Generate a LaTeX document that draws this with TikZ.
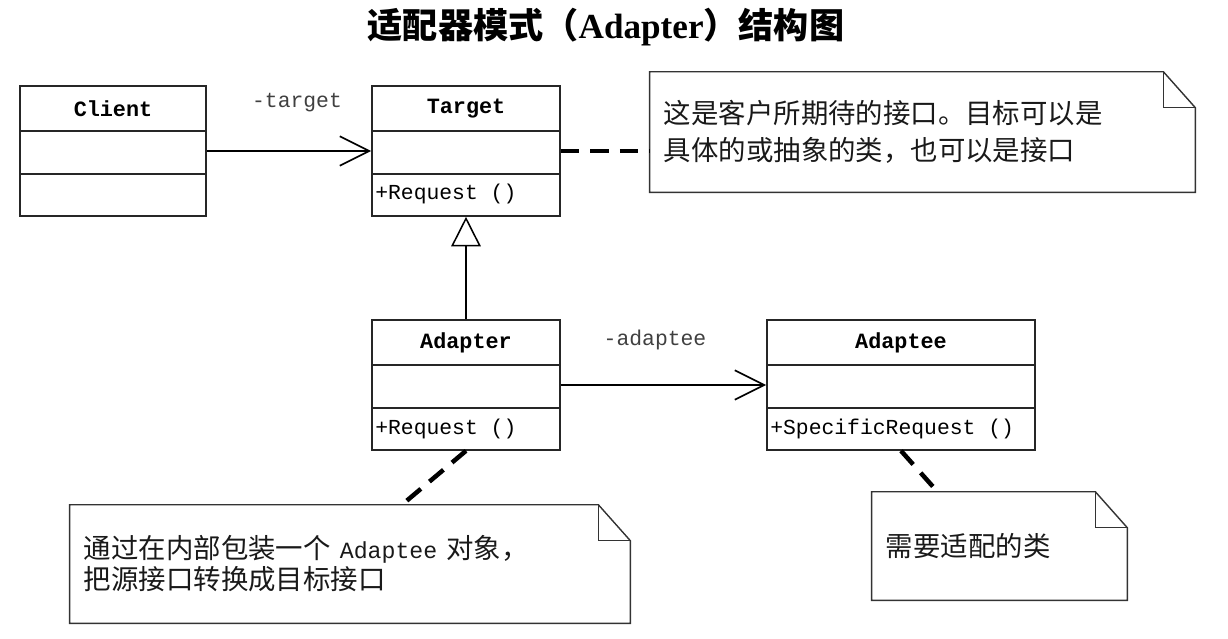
\documentclass[tikz,border=0pt]{standalone}
\usepackage{fontspec}
\newfontfamily\cjk{Noto Sans CJK SC}
\newfontfamily\monof{Liberation Mono}
\newfontfamily\titleserif{Liberation Serif}
\usetikzlibrary{arrows.meta}

\begin{document}
\begin{tikzpicture}[
  x=0.025cm, y=-0.025cm,
  cls/.style={draw=black!85, line width=1.1pt, inner sep=0pt, minimum height=3.25cm},
  divider/.style={draw=black!85, line width=1.1pt},
  clsname/.style={inner sep=0pt, font=\monof\bfseries\fontsize{15.5}{18}\selectfont},
  op/.style={anchor=west, inner sep=0pt, font=\monof\fontsize{15.2}{18}\selectfont},
  role/.style={inner sep=0pt, text=black!75, font=\monof\fontsize{15.2}{18}\selectfont},
  assoc/.style={line width=1.2pt, -{Straight Barb[length=21pt, width=21pt]}},
  gen/.style={line width=1.1pt, -{Triangle[open, length=21pt, width=21pt]}},
  note/.style={inner xsep=0.35cm, inner ysep=0pt, align=left, text=black!90,
    font=\cjk\fontsize{19.5}{26}\selectfont},
  notelink/.style={line width=3.2pt, dash pattern=on 13pt off 8pt},
  notebox/.style={draw=black!80, line width=1pt}
]
  \useasboundingbox (0,0) rectangle (1228,638);

  % titulo
  \node[font=\fontsize{25}{28}\selectfont] (title) at (606,27)
    {{\cjk\bfseries 适配器模式（}{\titleserif\bfseries Adapter}{\cjk\bfseries ）结构图}};

  % --- Client ---
  \node[cls, minimum width=4.65cm] (client) at (113,151) {};
  \node[clsname] (clientName) at (113,108.5) {Client};
  \draw[divider] (20,131) -- (206,131) (20,174) -- (206,174);

  % --- Target ---
  \node[cls, minimum width=4.7cm] (target) at (466,151) {};
  \node[clsname] (targetName) at (466,108.5) {Target};
  \node[op] (targetOp) at (375,194) {+Request ()};
  \draw[divider] (372,131) -- (560,131) (372,174) -- (560,174);

  % --- Adapter ---
  \node[cls, minimum width=4.7cm] (adapter) at (466,385) {};
  \node[clsname] (adapterName) at (466,342.5) {Adapter};
  \node[op] (adapterOp) at (375,429) {+Request ()};
  \draw[divider] (372,365) -- (560,365) (372,408) -- (560,408);

  % --- Adaptee ---
  \node[cls, minimum width=6.7cm] (adaptee) at (901,385) {};
  \node[clsname] (adapteeName) at (901,342.5) {Adaptee};
  \node[op] (adapteeOp) at (770,429) {+SpecificRequest ()};
  \draw[divider] (767,365) -- (1035,365) (767,408) -- (1035,408);

  % relaciones
  \draw[assoc] (client) -- (target);
  \node[role] (targetRole) at (297,103) {-target};
  \draw[assoc] (adapter) -- (adaptee);
  \node[role] (adapteeRole) at (655,340) {-adaptee};
  \draw[gen] (adapter) -- (target);

  % --- notas ---
  \node[note, text width=12.925cm, minimum height=3cm] (note1) at (922.5,132)
    {这是客户所期待的接口。目标可以是\\具体的或抽象的类，也可以是接口};
  \node[note, text width=13.3cm, minimum height=2.95cm,
    font=\cjk\fontsize{19.5}{22}\selectfont] (note2) at (350,564)
    {通过在内部包装一个 {\monof\fontsize{16.5}{22}\selectfont Adaptee} 对象，\\把源接口转换成目标接口};
  \node[note, text width=5.675cm, minimum height=2.7cm] (note3) at (999.5,546)
    {需要适配的类};

  \foreach \n in {note1,note2,note3} {
    \draw[notebox] (\n.north west) -- ([xshift=-0.8cm]\n.north east)
      -- ([yshift=-0.9cm]\n.north east) -- (\n.south east)
      -- (\n.south west) -- cycle;
    \draw[notebox] ([xshift=-0.8cm]\n.north east) |- ([yshift=-0.9cm]\n.north east);
  }

  \draw[notelink] (target.east) -- (target.east -| note1.west);
  \draw[notelink] (adapter.south) -- ([xshift=1.3cm]note2.north);
  \draw[notelink] (adaptee.south) -- ([xshift=-1.55cm]note3.north);
\end{tikzpicture}
\end{document}
